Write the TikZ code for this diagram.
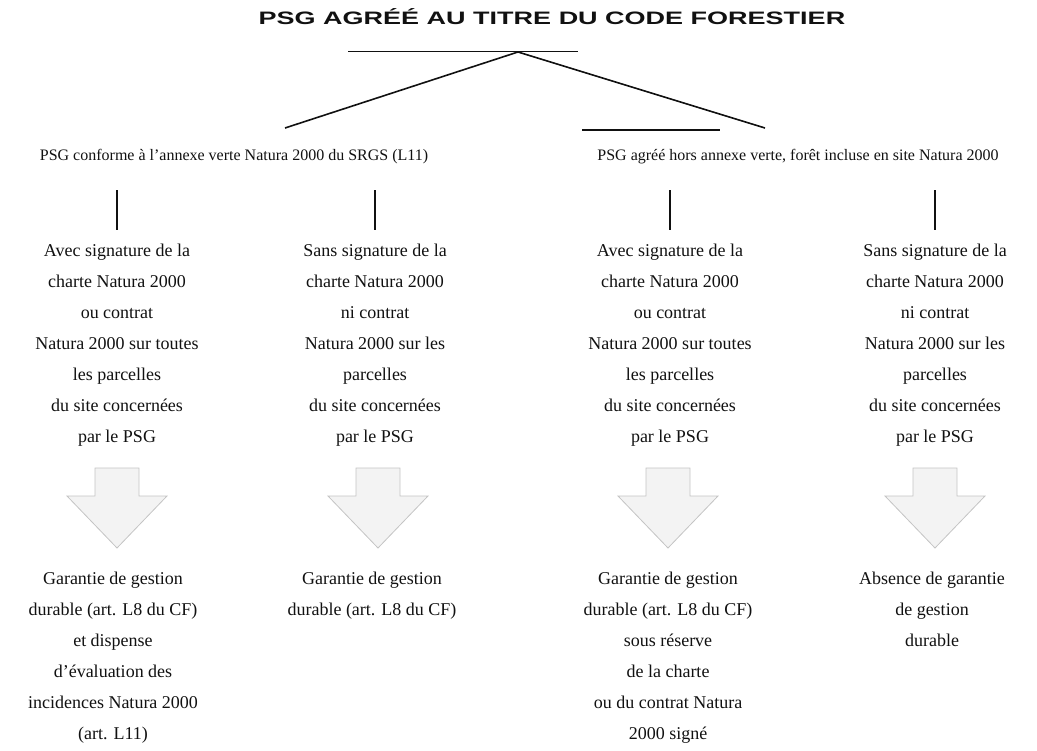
\documentclass[tikz,border=0pt]{standalone}
\usepackage{fontspec}
\setmainfont{Liberation Serif}
\newfontfamily\titlefont[FakeStretch=1.5]{Liberation Sans}
\usepackage{tikz}
\usetikzlibrary{positioning, calc}
\definecolor{inkblack}{HTML}{111111}
\definecolor{arrowgrey}{HTML}{C4C4C4}
\definecolor{arrowfill}{HTML}{F3F3F3}

\begin{document}
\begin{tikzpicture}[x=1pt, y=-1pt,
        title/.style={font=\titlefont\bfseries\fontsize{18}{20}\selectfont, text=inkblack, inner sep=0pt},
        heading/.style={font=\fontsize{16}{18}\selectfont, text=inkblack, inner sep=0pt},
        colbox/.style={font=\fontsize{18}{31}\selectfont, align=center, anchor=north, inner sep=0pt, text=inkblack},
        link/.style={draw=inkblack, line width=1.6pt},
        tick/.style={draw=inkblack, line width=2.4pt},
        downblock/.pic={\draw[draw=arrowgrey, fill=arrowfill, line width=0.8pt] (-22,-40) -- (22,-40) -- (22,-12) -- (50,-12) -- (0,40) -- (-50,-12) -- (-22,-12) -- cycle;}]

        \useasboundingbox (0,0) rectangle (1037,751);

        % Title and branches
        \node [title] (title) at (552,17) {PSG AGRÉÉ AU TITRE DU CODE FORESTIER};
        \coordinate (ulstart) at (348,52);
        \coordinate (ulend) at (578,52);
        \coordinate (apex) at (518,52);
        \coordinate (leftend) at (285,128);
        \coordinate (rightend) at (765,128);
        \coordinate (barstart) at (582,130);
        \coordinate (barend) at (720,130);

        \node [heading] (lefthead) at (234,157) {PSG conforme à l'annexe verte Natura 2000 du SRGS (L11)};
        \node [heading] (righthead) at (798,157) {PSG agréé hors annexe verte, forêt incluse en site Natura 2000};

        % Conditions
        \node [colbox] (c1) at (117,244) {Avec signature de la\\charte Natura 2000\\ou contrat\\Natura 2000 sur toutes\\les parcelles\\du site concernées\\par le PSG};
        \node [colbox] (c2) at (375,244) {Sans signature de la\\charte Natura 2000\\ni contrat\\Natura 2000 sur les\\parcelles\\du site concernées\\par le PSG};
        \node [colbox] (c3) at (670,244) {Avec signature de la\\charte Natura 2000\\ou contrat\\Natura 2000 sur toutes\\les parcelles\\du site concernées\\par le PSG};
        \node [colbox] (c4) at (935,244) {Sans signature de la\\charte Natura 2000\\ni contrat\\Natura 2000 sur les\\parcelles\\du site concernées\\par le PSG};

        % Results
        \node [colbox] (b1) at (113,572) {Garantie de gestion\\durable (art. L8 du CF)\\et dispense\\d'évaluation des\\incidences Natura 2000\\(art. L11)};
        \node [colbox] (b2) at (372,572) {Garantie de gestion\\durable (art. L8 du CF)};
        \node [colbox] (b3) at (668,572) {Garantie de gestion\\durable (art. L8 du CF)\\sous réserve\\de la charte\\ou du contrat Natura\\2000 signé};
        \node [colbox] (b4) at (932,572) {Absence de garantie\\de gestion\\durable};

        % Lines
        \draw [link, line width=1pt] (ulstart) -- (ulend);
        \draw [link] (apex) -- (leftend);
        \draw [link] (apex) -- (rightend);
        \draw [link] (barstart) -- (barend);
        \foreach \c in {c1,c2,c3,c4}
            \draw [tick] ([yshift=14pt]\c.north) -- ([yshift=54pt]\c.north);

        % Grey arrows
        \foreach \x in {117,378,668,935}
            \pic at (\x,508) {downblock};
    \end{tikzpicture}
\end{document}
